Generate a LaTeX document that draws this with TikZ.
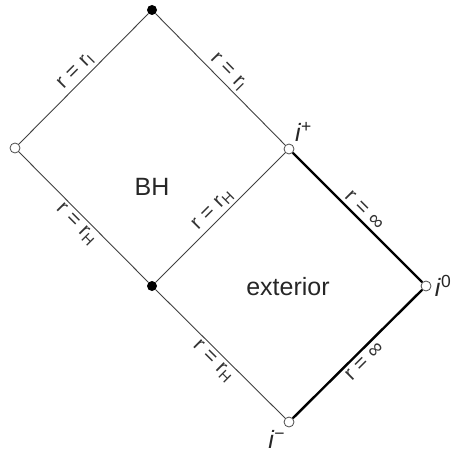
\documentclass[tikz,border=0pt]{standalone}
\usepackage{fontspec}
\setmainfont{Liberation Sans}
\usetikzlibrary{positioning}

\newcommand{\req}[1]{r\hspace{0.3em}=\hspace{0.3em}#1}

\begin{document}
\begin{tikzpicture}[
        x = 1pt, y = -1pt,
        open dot/.style = {circle, draw = black!70, line width = 0.8pt, fill = white, inner sep = 0pt, minimum size = 10pt},
        full dot/.style = {circle, fill = black, inner sep = 0pt, minimum size = 10pt},
        thin line/.style = {draw = black!75, line width = 0.9pt},
        thick line/.style = {draw = black, line width = 2.4pt},
        edge text/.style = {font = \fontsize{21}{23}\selectfont, sloped, midway, inner sep = 3pt, text = black!80},
        region text/.style = {font = \fontsize{25}{27}\selectfont, text = black!85},
        point text/.style = {font = \fontsize{25}{27}\selectfont, text = black!85}
    ]

      \useasboundingbox (0,0) rectangle (453,454);

      \node[full dot] (top)    at (152,10)  {};
      \node[open dot] (left)   at (15,148)  {};
      \node[full dot] (center) at (152,286) {};
      \node[open dot, label = {[point text, label distance = -1pt]55:\textit{i}\textsuperscript{+}}] (iplus) at (289,149) {};
      \node[open dot, label = {[point text, label distance = 0pt]0:\textit{i}\textsuperscript{0}}] (izero) at (426,286) {};
      \node[open dot, label = {[point text, label distance = -1pt]-95:\textit{i}\textsuperscript{−}}] (iminus) at (289,422) {};

      \node[region text] (bh)  at (152,187) {BH};
      \node[region text] (ext) at (288,287) {exterior};

      \path[thin line] (left) -- node[edge text, above] {\req{r\textsubscript{I}}} (top)
                       (top) -- node[edge text, above] {\req{r\textsubscript{I}}} (iplus)
                       (left) -- node[edge text, below] {\req{r\textsubscript{H}}} (center)
                       (center) -- node[edge text, above] {\req{r\textsubscript{H}}} (iplus)
                       (center) -- node[edge text, below] {\req{r\textsubscript{H}}} (iminus);
      \path[thick line] (iplus) -- node[edge text, above] {\req{∞}} (izero)
                        (iminus) -- node[edge text, below] {\req{∞}} (izero);

    \end{tikzpicture}
\end{document}
